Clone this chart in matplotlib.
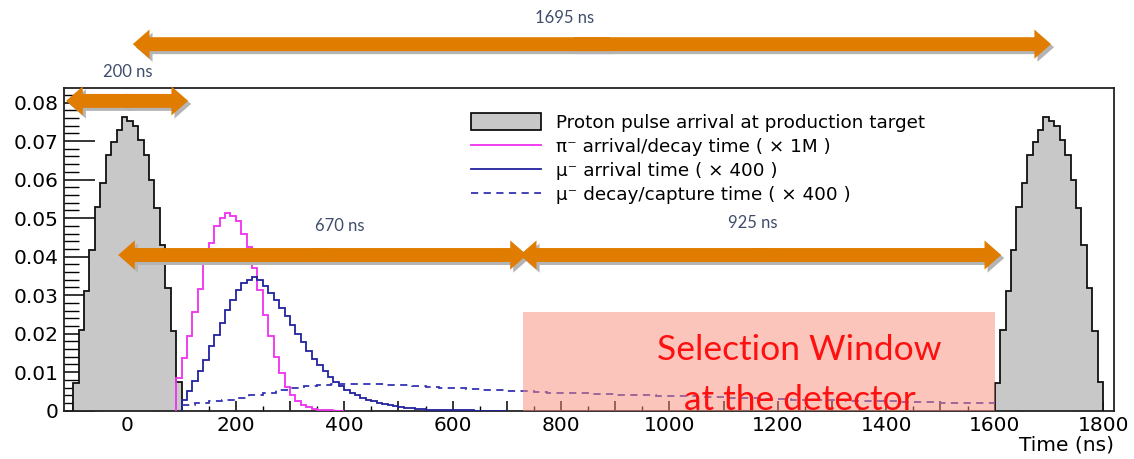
import numpy as np
import matplotlib.pyplot as plt
import matplotlib.patheffects as pe
from matplotlib.patches import FancyArrowPatch, Patch, Rectangle
from matplotlib.lines import Line2D
from matplotlib.ticker import MultipleLocator, FuncFormatter

# ----------------------------------------------------
# data
# ----------------------------------------------------
BIN = 10  # ns, histogram bin width

# proton pulse, 10 ns bins starting at each pulse start
proton_pulse = [0.0073, 0.0210, 0.0312, 0.0418, 0.0528, 0.0590, 0.0665, 0.0698, 0.0728, 0.0762,
                0.0752, 0.0738, 0.0702, 0.0664, 0.0600, 0.0527, 0.0430, 0.0318, 0.0207, 0.0075]
pulse_starts = [-100, 1600]

# pi- arrival/decay time (x 1M)
pion_start = 90
pion = [0.0085, 0.0138, 0.0194, 0.0255, 0.0315, 0.0380, 0.0436, 0.0480, 0.0500, 0.0512,
        0.0505, 0.0492, 0.0460, 0.0425, 0.0370, 0.0314, 0.0249, 0.0193, 0.0140, 0.0097,
        0.0062, 0.0040, 0.0026, 0.0015, 0.0009, 0.0005, 0.0003, 0.0002, 0.0001, 0.00005,
        0.00002]

# mu- arrival time (x 400)
mu_arr_start = 100
mu_arrival = [0.0028, 0.0050, 0.0076, 0.0104, 0.0132, 0.0167, 0.0197, 0.0227, 0.0262, 0.0288,
              0.0314, 0.0332, 0.0340, 0.0347, 0.0340, 0.0325, 0.0306, 0.0288, 0.0266, 0.0245,
              0.0222, 0.0200, 0.0178, 0.0156, 0.0135, 0.0118, 0.0102, 0.0088, 0.0075, 0.0064,
              0.0055, 0.0047, 0.0040, 0.0034, 0.0029, 0.0025, 0.0021, 0.0018, 0.0015, 0.0012,
              0.0010, 0.0008, 0.0007, 0.0005, 0.0004, 0.0003, 0.0003, 0.0002, 0.0002, 0.0001,
              0.0001, 0.0001, 0.00008, 0.00006, 0.00005, 0.00004, 0.00003, 0.00002, 0.00002, 0.00001]

# mu- decay/capture time (x 400), 25 ns bins
mu_dec_start = 100
MU_DEC_BIN = 25
mu_decay = [0.0015, 0.0020, 0.0024, 0.0029, 0.0034, 0.0040, 0.0047, 0.0054, 0.0060, 0.0065,
            0.0068, 0.0069, 0.0070, 0.0070, 0.0069, 0.0068, 0.0066, 0.0064, 0.0062, 0.0060,
            0.0058, 0.0057, 0.0055, 0.0053, 0.0051, 0.0050, 0.0048, 0.0047, 0.0046, 0.0045,
            0.0044, 0.0043, 0.0042, 0.0041, 0.0040, 0.0039, 0.0038, 0.0037, 0.0036, 0.0035,
            0.0034, 0.0033, 0.0032, 0.0031, 0.0030, 0.0029, 0.0028, 0.0028, 0.0027, 0.0026,
            0.0025, 0.0024, 0.0024, 0.0023, 0.0022, 0.0022, 0.0021, 0.0020, 0.0020, 0.0019]

# selection window (ns, height)
window_start, window_end, window_height = 730, 1600, 0.0255

labels = ["Proton pulse arrival at production target",
          "π⁻ arrival/decay time ( × 1M )",
          "μ⁻ arrival time ( × 400 )",
          "μ⁻ decay/capture time ( × 400 )"]

ORANGE = '#e07c00'
GRAY = '#c8c8c8'
MAGENTA = '#ee30ee'
BLUE = '#22229e'
DASH_BLUE = '#3434b4'

plt.rcParams['font.family'] = ['DejaVu Sans']
NOTE_FONT = ['Lato', 'DejaVu Sans']


def edges(start, n, width=BIN):
    return start + width * np.arange(n + 1)


fig = plt.figure(figsize=(11.34, 4.59), dpi=100)
ax = fig.add_axes([0.0564, 0.1052, 0.9259, 0.7024])

# proton pulses
for s in pulse_starts:
    e = edges(s, len(proton_pulse))
    ax.stairs(proton_pulse, e, fill=True, facecolor=GRAY, edgecolor='none', zorder=2)
    ax.stairs(proton_pulse, e, color='#111111', lw=1.3, zorder=3)

ax.stairs(pion, edges(pion_start, len(pion)), color=MAGENTA, lw=1.3, zorder=3)
ax.stairs(mu_arrival, edges(mu_arr_start, len(mu_arrival)), color=BLUE, lw=1.3, zorder=3)
ax.stairs(mu_decay, edges(mu_dec_start, len(mu_decay), MU_DEC_BIN), baseline=None,
          color=DASH_BLUE, lw=1.3, ls=(0, (4, 3)), zorder=3)

# selection window
ax.add_patch(Rectangle((window_start, 0), window_end - window_start, window_height,
                       facecolor='#fa8c78', alpha=0.5, edgecolor='none', zorder=4))
ax.text(1240, 0.0158, "Selection Window", color='#ff1010', fontsize=25.5,
        family=NOTE_FONT, ha='center', va='center', zorder=6)
ax.text(1240, 0.0029, "at the detector", color='#ff1010', fontsize=25.5,
        family=NOTE_FONT, ha='center', va='center', zorder=6)

# axes
ax.set_xlim(-117, 1820)
ax.set_ylim(0, 0.0837)
ax.xaxis.set_major_locator(MultipleLocator(100))
ax.xaxis.set_minor_locator(MultipleLocator(50))
ax.xaxis.set_major_formatter(FuncFormatter(lambda v, p: f"{v:.0f}" if round(v) % 200 == 0 else ""))
ax.yaxis.set_major_locator(MultipleLocator(0.01))
ax.yaxis.set_minor_locator(MultipleLocator(0.002))
ax.yaxis.set_major_formatter(FuncFormatter(lambda v, p: "0" if abs(v) < 1e-9 else f"{v:.2f}"))
ax.tick_params(axis='x', which='major', direction='in', length=7, width=1.1, labelsize=14.5, pad=4)
ax.tick_params(axis='x', which='minor', direction='in', length=3.6, width=1.0)
ax.tick_params(axis='y', which='major', direction='in', length=22, width=1.1, labelsize=14.5, pad=4)
ax.tick_params(axis='y', which='minor', direction='in', length=11, width=1.0)
for sp in ax.spines.values():
    sp.set_linewidth(1.3)
    sp.set_color('#222222')
ax.set_xlabel("Time (ns)", loc='right', fontsize=14.5, labelpad=0)

# legend
handles = [Patch(facecolor=GRAY, edgecolor='black', lw=1.2),
           Line2D([], [], color=MAGENTA, lw=1.3),
           Line2D([], [], color=BLUE, lw=1.3),
           Line2D([], [], color=DASH_BLUE, lw=1.3, ls=(0, (4, 3)))]
ax.legend(handles, labels, loc='upper left', bbox_to_anchor=(0.388, 0.922), frameon=False,
          fontsize=13.2, handlelength=3.8, handleheight=1.0, handletextpad=0.8,
          labelspacing=0.31, borderaxespad=0, borderpad=0)


# orange double arrows with shadow (x in ns, y in axes fraction)
def double_arrow(x0, x1, y, text, tx, ty):
    tr = ax.get_xaxis_transform()
    xm = (x0 + x1) / 2
    overlap = (x1 - x0) * 0.02
    style = 'simple,head_length=1.2,head_width=2.1,tail_width=1.0'
    for start, end in ((xm + overlap, x0), (xm - overlap, x1)):
        for shadow in (True, False):
            a = FancyArrowPatch((start, y), (end, y), transform=tr, arrowstyle=style,
                                mutation_scale=10, shrinkA=0, shrinkB=0, color=ORANGE,
                                lw=0, clip_on=False, zorder=7 if shadow else 8)
            if shadow:
                a.set_path_effects([pe.SimplePatchShadow(offset=(2.2, -2.2),
                                                         shadow_rgbFace='#b4b4b4', alpha=1.0)])
            ax.add_patch(a)
    ax.text(tx, ty, text, transform=tr, ha='center', va='center', color='#3f4d6b',
            fontsize=12, family=NOTE_FONT)


double_arrow(10, 1704, 1.137, "1695 ns", 807, 1.218)
double_arrow(-113, 112, 0.961, "200 ns", 1, 1.05)
double_arrow(-17, 737, 0.483, "670 ns", 392, 0.573)
double_arrow(724, 1612, 0.483, "925 ns", 1153, 0.582)

fig.savefig("out.png", dpi=100)
